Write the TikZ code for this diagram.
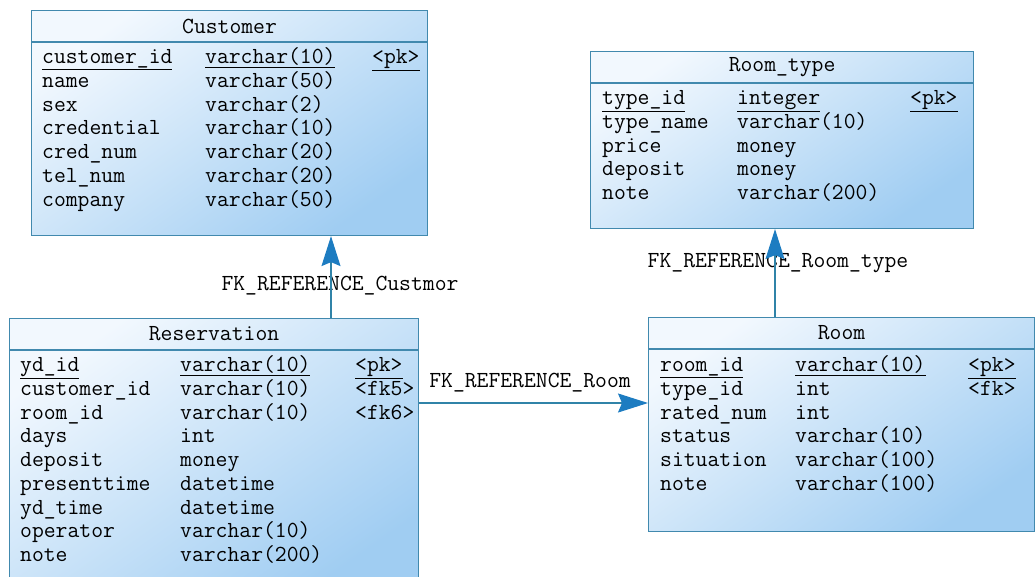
\documentclass[tikz,border=0pt]{standalone}
\usetikzlibrary{arrows.meta}
\definecolor{tabline}{HTML}{4189AE}
\definecolor{tabtop}{HTML}{F2F8FE}
\definecolor{tabbot}{HTML}{A0CDF2}
\definecolor{fkline}{HTML}{3083A8}
\definecolor{fkhead}{HTML}{1D7CC1}
\tikzset{
  tabbox/.style={draw=tabline, line width=1.1pt, top color=tabtop, bottom color=tabbot,
    shading angle=35, anchor=north west, inner sep=0pt},
  tabtitle/.style={font=\ttfamily\fontsize{23}{26}\selectfont, inner sep=0pt},
  col/.style={font=\ttfamily\fontsize{23}{26}\selectfont, anchor=west, inner sep=0pt,
    text height=13pt, text depth=4pt},
  fk/.style={draw=fkline, line width=1.1pt,
    -{Stealth[inset=4pt,length=30pt,width=19pt,fill=fkhead,color=fkhead]}},
  fklabel/.style={font=\ttfamily\fontsize{23}{26}\selectfont, inner sep=0pt}
}
\begin{document}
\begin{tikzpicture}[x=1pt,y=-1pt]
\useasboundingbox (0,0) rectangle (1035,576);
\clip (0,0) rectangle (1035,576);
% tables
\node[tabbox, minimum width=396pt, minimum height=225pt] (cust) at (31,10) {};
\node[tabbox, minimum width=383pt, minimum height=177pt] (rtype) at (590,51) {};
\node[tabbox, minimum width=409pt, minimum height=275pt] (resv) at (9,318) {};
\node[tabbox, minimum width=386pt, minimum height=214pt] (room) at (648,317) {};
% headers
\foreach \t/\txt in {cust/Customer,rtype/Room\_type,resv/Reservation,room/Room}{
  \draw[tabline, line width=1.1pt] ([yshift=-32pt]\t.north west) -- ([yshift=-32pt]\t.north east);
  \node[tabtitle] (\t-title) at ([yshift=-16pt]\t.north) {\txt};
}
% Customer columns
\foreach \fname/\ftype/\fkey [count=\i from 0] in {
  {\underline{customer\_id}}/{\underline{varchar(10)}}/{\underline{<pk>}},
  name/varchar(50)/{}, sex/varchar(2)/{}, credential/varchar(10)/{},
  cred\_num/varchar(20)/{}, tel\_num/varchar(20)/{}, company/varchar(50)/{}}{
  \path (cust.north west) ++(11,{49+\i*23.75}) node[col] (cust-a\i) {\fname}
        (cust.north west) ++(174,{49+\i*23.75}) node[col] (cust-b\i) {\ftype}
        (cust.north west) ++(341,{49+\i*23.75}) node[col] (cust-c\i) {\fkey};
}
% Room_type columns
\foreach \fname/\ftype/\fkey [count=\i from 0] in {
  {\underline{type\_id}}/{\underline{integer}}/{\underline{<pk>}},
  type\_name/varchar(10)/{}, price/money/{}, deposit/money/{}, note/varchar(200)/{}}{
  \path (rtype.north west) ++(12,{49+\i*23.75}) node[col] (rtype-a\i) {\fname}
        (rtype.north west) ++(147,{49+\i*23.75}) node[col] (rtype-b\i) {\ftype}
        (rtype.north west) ++(320,{49+\i*23.75}) node[col] (rtype-c\i) {\fkey};
}
% Reservation columns
\foreach \fname/\ftype/\fkey [count=\i from 0] in {
  {\underline{yd\_id}}/{\underline{varchar(10)}}/{\underline{<pk>}},
  customer\_id/varchar(10)/{<fk5>}, room\_id/varchar(10)/{<fk6>}, days/int/{},
  deposit/money/{}, presenttime/datetime/{}, yd\_time/datetime/{},
  operator/varchar(10)/{}, note/varchar(200)/{}}{
  \path (resv.north west) ++(11,{49+\i*23.75}) node[col] (resv-a\i) {\fname}
        (resv.north west) ++(171,{49+\i*23.75}) node[col] (resv-b\i) {\ftype}
        (resv.north west) ++(346,{49+\i*23.75}) node[col] (resv-c\i) {\fkey};
}
% Room columns
\foreach \fname/\ftype/\fkey [count=\i from 0] in {
  {\underline{room\_id}}/{\underline{varchar(10)}}/{\underline{<pk>}},
  type\_id/int/{<fk>}, rated\_num/int/{}, status/varchar(10)/{},
  situation/varchar(100)/{}, note/varchar(100)/{}}{
  \path (room.north west) ++(12,{50+\i*23.75}) node[col] (room-a\i) {\fname}
        (room.north west) ++(147,{50+\i*23.75}) node[col] (room-b\i) {\ftype}
        (room.north west) ++(320,{50+\i*23.75}) node[col] (room-c\i) {\fkey};
}
% references
\node[fklabel] (fk1-lab) at (340,286) {FK\_REFERENCE\_Custmor};
\node[fklabel] (fk2-lab) at (530,383) {FK\_REFERENCE\_Room};
\node[fklabel] (fk3-lab) at (778,263) {FK\_REFERENCE\_Room\_type};
\coordinate (fk1) at (331,0);
\coordinate (fk2) at (0,403);
\coordinate (fk3) at (775,0);
\draw[fk] (resv.north -| fk1) -- (cust.south -| fk1);
\draw[fk] (resv.east |- fk2) -- (room.west |- fk2);
\draw[fk] (room.north -| fk3) -- (rtype.south -| fk3);
\end{tikzpicture}
\end{document}
